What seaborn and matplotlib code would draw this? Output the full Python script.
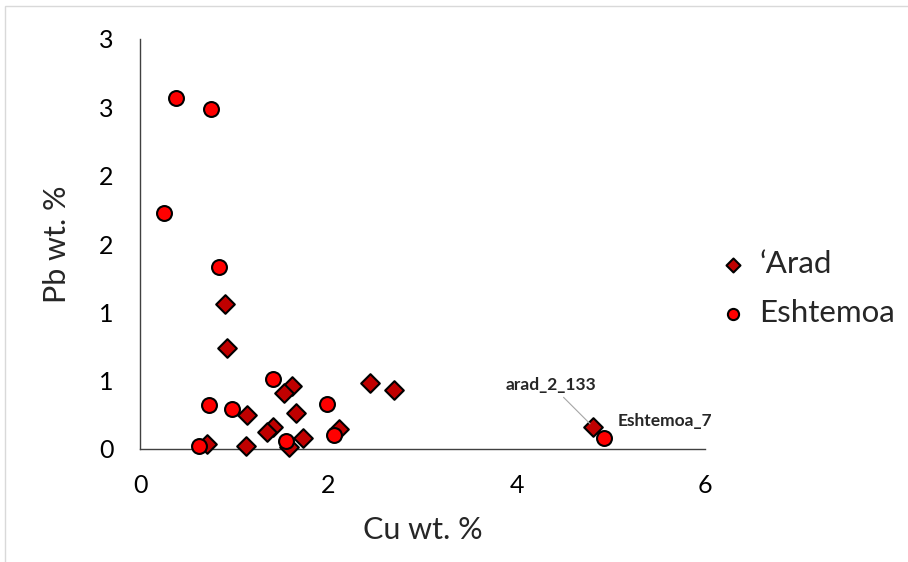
import matplotlib
import seaborn as sns
from matplotlib import pyplot as plt
from matplotlib.patches import Rectangle

matplotlib.use("Agg")

# 'Arad samples (diamonds)
arad_cu = [0.906, 0.927, 1.614, 1.533, 1.657, 1.14, 1.416, 1.345, 1.735,
           1.126, 0.708, 1.586, 2.11, 2.442, 2.697, 4.81]
arad_pb = [1.058, 0.741, 0.459, 0.407, 0.266, 0.249, 0.163, 0.124, 0.078,
           0.024, 0.034, 0.017, 0.146, 0.485, 0.432, 0.163]

# Eshtemoa samples (circles)
eshtemoa_cu = [0.386, 0.757, 0.251, 0.839, 1.409, 0.733, 0.974, 1.989,
               0.63, 1.55, 2.06, 4.93]
eshtemoa_pb = [2.565, 2.487, 1.729, 1.334, 0.512, 0.32, 0.295, 0.327,
               0.022, 0.061, 0.102, 0.08]

x_ticks = [0, 2, 4, 6]
x_tick_labels = ["0", "2", "4", "6"]
y_ticks = [0, 0.5, 1.0, 1.5, 2.0, 2.5, 3.0]
y_tick_labels = ["0", "1", "1", "2", "2", "3", "3"]  # excel rounds to 0 dp

sns.set_style("white")
plt.rcParams["font.family"] = ["Lato", "DejaVu Sans"]

axis_color = "#404040"

fig = plt.figure(figsize=(9.08, 5.62), dpi=100)
ax = fig.add_axes([140 / 908, 1 - 449 / 562, 565 / 908, 410 / 562])

sns.scatterplot(x=arad_cu, y=arad_pb, marker="D", s=90, color="#C00000",
                edgecolor="black", linewidth=1.5, label="\u2018Arad",
                clip_on=False, zorder=3, ax=ax)
sns.scatterplot(x=eshtemoa_cu, y=eshtemoa_pb, marker="o", s=115,
                color="#FF0000", edgecolor="black", linewidth=1.5,
                label="Eshtemoa", clip_on=False, zorder=4, ax=ax)

ax.set_xlim(0, 6)
ax.set_ylim(0, 3)
ax.set_xticks(x_ticks)
ax.set_xticklabels(x_tick_labels)
ax.set_yticks(y_ticks)
ax.set_yticklabels(y_tick_labels)
ax.tick_params(axis="both", direction="in", length=6.5, width=1,
               color=axis_color, labelsize=18, labelcolor="black")
ax.tick_params(axis="x", pad=18)
ax.tick_params(axis="y", pad=19)

for side in ["top", "right"]:
    ax.spines[side].set_visible(False)
for side in ["left", "bottom"]:
    ax.spines[side].set_color(axis_color)
    ax.spines[side].set_linewidth(1.0)

fig.text(423 / 908, 1 - 530 / 562, "Cu wt. %", ha="center", va="center",
         fontsize=22)
fig.text(57 / 908, 1 - 244 / 562, "Pb wt. %", ha="center", va="center",
         rotation=90, fontsize=22)

# point labels
ax.annotate("arad_2_133", xy=(arad_cu[-1], arad_pb[-1]),
            xytext=(-30, 30), textcoords="offset points",
            ha="center", va="center", fontsize=12.5, fontweight="bold",
            arrowprops=dict(arrowstyle="-", color="#a6a6a6", lw=0.8,
                            shrinkA=1, shrinkB=3),
            zorder=5)
ax.annotate("Eshtemoa_7", xy=(eshtemoa_cu[-1], eshtemoa_pb[-1]),
            xytext=(9.5, 12), textcoords="offset points",
            ha="left", va="center", fontsize=12.5, fontweight="bold",
            zorder=5)

handles, labels = ax.get_legend_handles_labels()
ax.get_legend().remove()
fig.legend(handles, labels, loc="center left",
           bbox_to_anchor=(692 / 908, 1 - 288.5 / 562), frameon=False,
           fontsize=22.5, handlelength=0.8, handletextpad=0.45,
           labelspacing=0.68, markerscale=0.75)

# light outer frame like the excel chart area
fig.patches.append(Rectangle((5 / 908, -0.1), 1.2, 1.1 - 6 / 562,
                             transform=fig.transFigure, fill=False,
                             edgecolor="#d9d9d9", linewidth=1))

fig.savefig("out.png", dpi=100)
